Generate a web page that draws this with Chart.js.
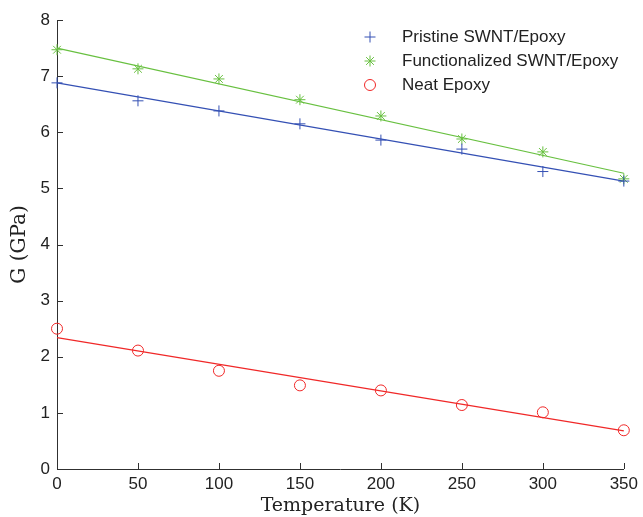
<!DOCTYPE html>
<html>
<head>
<meta charset="utf-8">
<script src="https://cdn.jsdelivr.net/npm/chart.js@4.4.1/dist/chart.umd.min.js"></script>
<style>
  html, body { margin: 0; padding: 0; background: #fff; }
  #wrap { width: 643px; height: 517px; position: relative; }
</style>
</head>
<body>
<div id="wrap"><canvas id="chartCanvas"></canvas></div>
<script>
// Données
const temperatures = [0, 50, 100, 150, 200, 250, 300, 350];
const pristine = [6.88, 6.56, 6.38, 6.15, 5.86, 5.70, 5.30, 5.13];
const functionalized = [7.47, 7.13, 6.95, 6.58, 6.29, 5.88, 5.65, 5.17];
const neatEpoxy = [2.50, 2.11, 1.75, 1.49, 1.40, 1.14, 1.01, 0.69];

// Droites d'ajustement (valeurs aux extrémités 0 K et 350 K)
const fitTemps = [0, 350];
const pristineFit = [6.88, 5.13];
const functionalizedFit = [7.50, 5.27];
const neatFit = [2.34, 0.68];

const xTicks = [0, 50, 100, 150, 200, 250, 300, 350];
const yTicks = [0, 1, 2, 3, 4, 5, 6, 7, 8];

const BLUE = '#3450b4';
const GREEN = '#68c040';
const RED = '#f02828';
const AXIS = '#303030';

function toPoints(xs, ys) {
    return xs.map((x, i) => ({ x: x, y: ys[i] }));
}

// Graduations vers l'intérieur
const innerTicks = {
    id: 'innerTicks',
    afterDraw(chart) {
        const ctx = chart.ctx;
        const xs = chart.scales.x, ys = chart.scales.y;
        const area = chart.chartArea;
        ctx.save();
        ctx.strokeStyle = AXIS;
        ctx.lineWidth = 1;
        ctx.beginPath();
        xTicks.forEach(v => {
            const px = Math.round(xs.getPixelForValue(v)) + 0.5;
            ctx.moveTo(px, area.bottom);
            ctx.lineTo(px, area.bottom - 6);
        });
        yTicks.forEach(v => {
            const py = Math.round(ys.getPixelForValue(v)) + 0.5;
            ctx.moveTo(area.left, py);
            ctx.lineTo(area.left + 6, py);
        });
        ctx.stroke();
        ctx.restore();
    }
};

// Légende dessinée à la main
const customLegend = {
    id: 'customLegend',
    afterDraw(chart) {
        const ctx = chart.ctx;
        const items = chart.data.datasets.filter(d => d.legend);
        ctx.save();
        ctx.font = '17px "Liberation Sans", Arial, sans-serif';
        ctx.textBaseline = 'middle';
        items.forEach((d, i) => {
            const y = 37 + i * 24;
            ctx.strokeStyle = d.borderColor;
            ctx.fillStyle = 'rgba(0,0,0,0)';
            ctx.lineWidth = 1;
            Chart.helpers.drawPoint(ctx, { pointStyle: d.pointStyle, radius: d.pointRadius, borderWidth: 1 }, 370, y);
            ctx.fillStyle = '#222';
            ctx.fillText(d.label, 402, y);
        });
        ctx.restore();
    }
};

function markerSet(label, data, color, style, r) {
    return {
        label: label,
        legend: true,
        data: toPoints(temperatures, data),
        showLine: false,
        clip: false,
        pointStyle: style,
        pointRadius: r,
        pointBorderWidth: 1,
        borderColor: color,
        backgroundColor: 'rgba(0,0,0,0)',
        order: 1
    };
}

function fitSet(data, color) {
    return {
        label: '',
        data: toPoints(fitTemps, data),
        showLine: true,
        clip: false,
        pointRadius: 0,
        borderColor: color,
        borderWidth: 1.2,
        fill: false,
        order: 2
    };
}

const ctx = document.getElementById('chartCanvas').getContext('2d');
new Chart(ctx, {
    type: 'scatter',
    data: {
        datasets: [
            markerSet('Pristine SWNT/Epoxy', pristine, BLUE, 'cross', 5.5),
            markerSet('Functionalized SWNT/Epoxy', functionalized, GREEN, 'star', 5.5),
            markerSet('Neat Epoxy', neatEpoxy, RED, 'circle', 5.5),
            fitSet(pristineFit, BLUE),
            fitSet(functionalizedFit, GREEN),
            fitSet(neatFit, RED)
        ]
    },
    options: {
        responsive: true,
        maintainAspectRatio: false,
        animation: false,
        layout: { padding: { top: 20, right: 16, bottom: 0, left: 0 } },
        plugins: {
            legend: { display: false },
            tooltip: { enabled: false }
        },
        scales: {
            x: {
                type: 'linear',
                min: 0,
                max: 350,
                afterFit(scale) { scale.height = 48; },
                afterBuildTicks(scale) { scale.ticks = xTicks.map(v => ({ value: v })); },
                grid: { display: true, drawOnChartArea: false, drawTicks: false },
                border: { display: true, color: AXIS, width: 1 },
                ticks: {
                    padding: 5,
                    color: '#222',
                    font: { family: '"Liberation Sans", Arial, sans-serif', size: 17 },
                    maxRotation: 0
                },
                title: {
                    display: true,
                    text: 'Temperature (K)',
                    color: '#222',
                    font: { family: '"DejaVu Serif", "Liberation Serif", serif', size: 19 },
                    padding: { top: 0, bottom: 0 }
                }
            },
            y: {
                type: 'linear',
                min: 0,
                max: 8,
                afterFit(scale) { scale.width = 57; },
                afterBuildTicks(scale) { scale.ticks = yTicks.map(v => ({ value: v })); },
                grid: { display: true, drawOnChartArea: false, drawTicks: false },
                border: { display: true, color: AXIS, width: 1 },
                ticks: {
                    padding: 7,
                    color: '#222',
                    font: { family: '"Liberation Sans", Arial, sans-serif', size: 17 }
                },
                title: {
                    display: true,
                    text: 'G (GPa)',
                    color: '#222',
                    font: { family: '"DejaVu Serif", "Liberation Serif", serif', size: 20 },
                    padding: { top: 8, bottom: 0 }
                }
            }
        }
    },
    plugins: [innerTicks, customLegend]
});
</script>
</body>
</html>
